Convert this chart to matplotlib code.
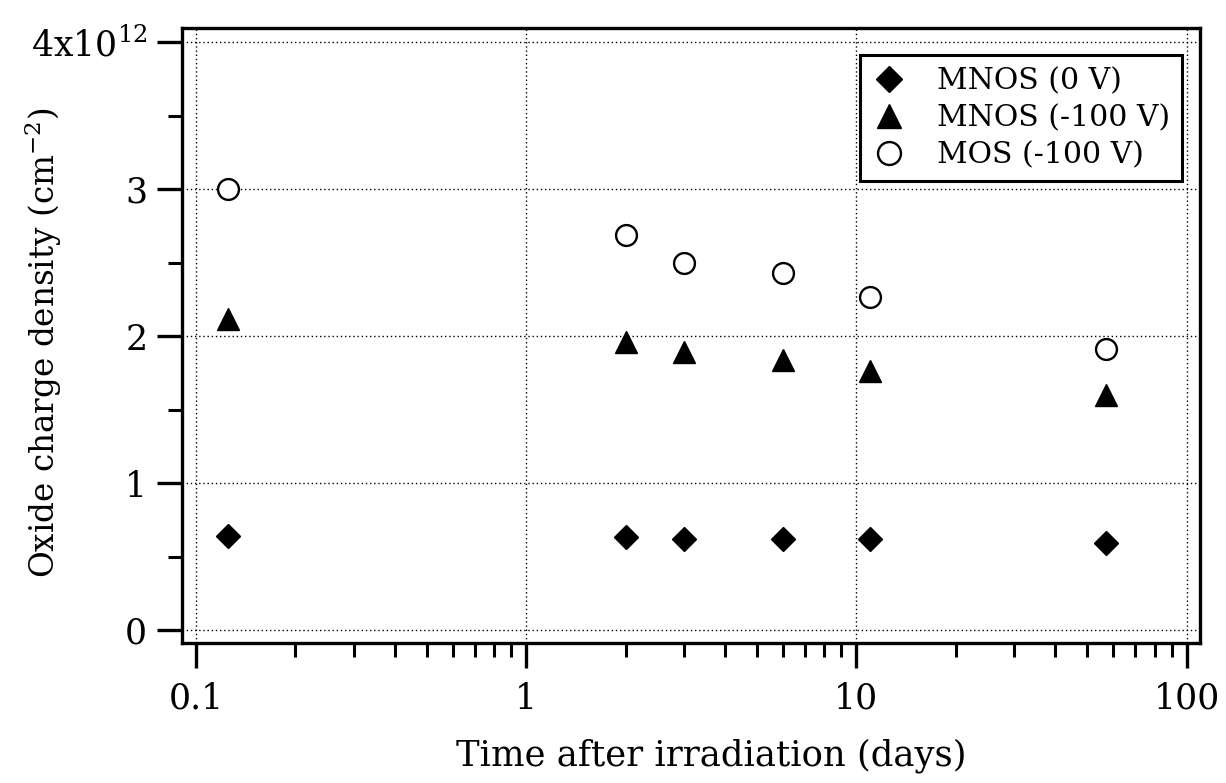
import numpy as np
import matplotlib.pyplot as plt
from matplotlib.ticker import FixedLocator, LogLocator, NullFormatter

plt.rcParams['font.family'] = ['DejaVu Serif']
plt.rcParams['mathtext.fontset'] = 'dejavuserif'

# time after irradiation (days)
days = [0.125, 2, 3, 6, 11, 57]
# oxide charge density, units of 1e12 cm^-2
mnos_0v = [0.64, 0.63, 0.62, 0.62, 0.62, 0.59]
mnos_100v = [2.12, 1.96, 1.89, 1.84, 1.76, 1.60]
mos_100v = [3.00, 2.69, 2.50, 2.43, 2.27, 1.91]

y_ticks = [0, 1, 2, 3, 4]
y_ticklabels = ['0', '1', '2', '3', r'4x10$^{12}$']
x_ticks = [0.1, 1, 10, 100]
x_ticklabels = ['0.1', '1', '10', '100']

fig = plt.figure(figsize=(12.26, 7.83), dpi=100)
ax = fig.add_axes([0.1485, 0.1788, 0.830, 0.785])

ax.plot(days, mnos_0v, linestyle='none', marker='D', markersize=12,
        color='black', label='MNOS (0 V)')
ax.plot(days, mnos_100v, linestyle='none', marker='^', markersize=16,
        color='black', label='MNOS (-100 V)')
ax.plot(days, mos_100v, linestyle='none', marker='o', markersize=15,
        markerfacecolor='white', markeredgecolor='black', markeredgewidth=1.7,
        label='MOS (-100 V)')

ax.set_xscale('log')
ax.set_xlim(0.0907, 109.5)
ax.set_ylim(-0.088, 4.095)

ax.set_xticks(x_ticks)
ax.set_xticklabels(x_ticklabels)
ax.xaxis.set_minor_locator(LogLocator(base=10, subs=np.arange(2, 10)))
ax.xaxis.set_minor_formatter(NullFormatter())
ax.set_yticks(y_ticks)
ax.set_yticklabels(y_ticklabels)
ax.yaxis.set_minor_locator(FixedLocator([0.5, 1.5, 2.5, 3.5]))

ax.tick_params(which='major', direction='out', length=18, width=2.4,
               labelsize=25, pad=7, top=False, right=False)
ax.tick_params(which='minor', direction='out', length=10, width=2.2,
               top=False, right=False)
ax.tick_params(axis='x', which='major', pad=10)

for s in ax.spines.values():
    s.set_linewidth(2.4)

ax.grid(True, which='major', color='black', linestyle=(0, (1, 2)), linewidth=1.0)

ax.set_xlabel('Time after irradiation (days)', fontsize=25.5)
ax.xaxis.set_label_coords(0.5196, -0.156)
ax.set_ylabel(r'Oxide charge density (cm$^{-2}$)', fontsize=23.5)
ax.yaxis.set_label_coords(-0.116, 0.488)

leg = ax.legend(loc='upper right', bbox_to_anchor=(0.983, 0.956), borderaxespad=0,
                fontsize=21.5, fancybox=False, framealpha=1, edgecolor='black',
                handlelength=1.2, handletextpad=1.0, borderpad=0.4, labelspacing=0.3,
                markerscale=1.1)
leg.get_frame().set_linewidth(2.2)

plt.savefig('out.png', dpi=100)
